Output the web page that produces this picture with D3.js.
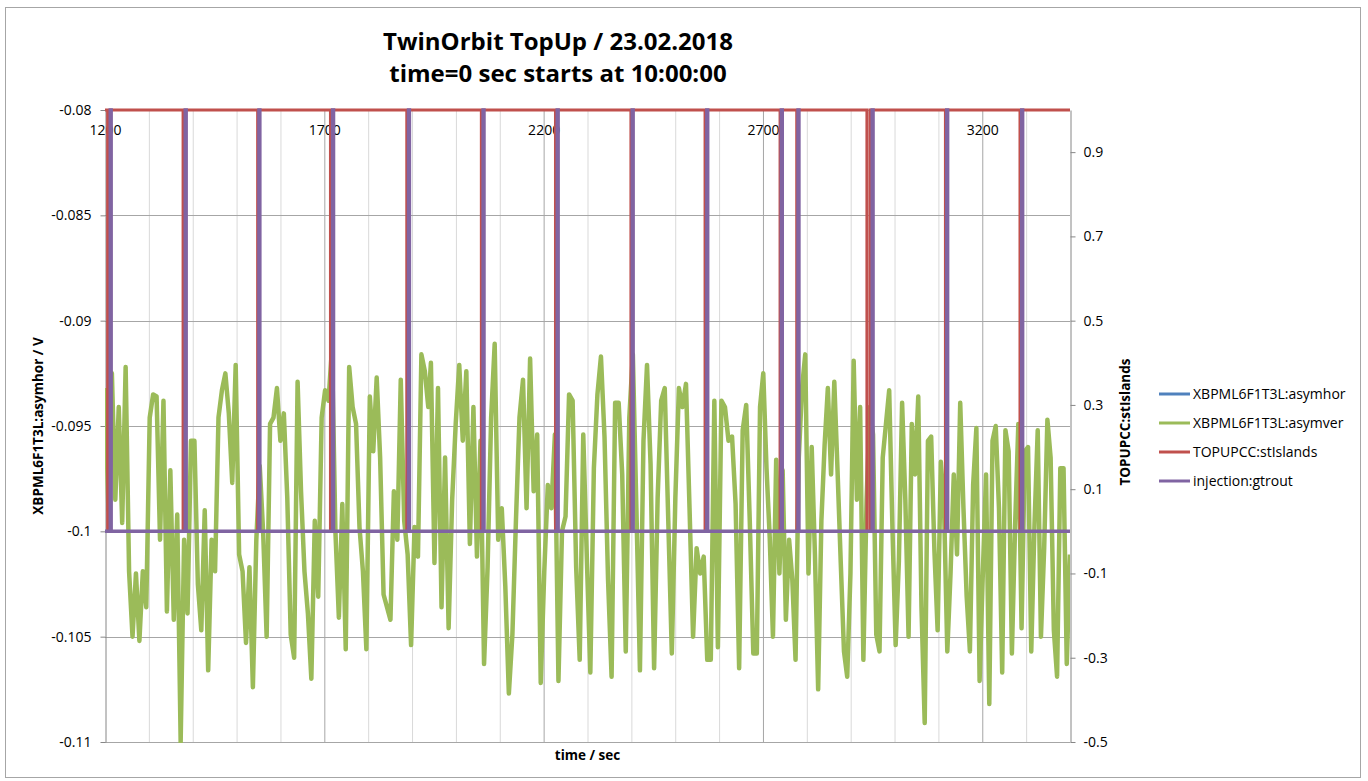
<!DOCTYPE html>
<html>
<head>
<meta charset="utf-8">
<script src="https://cdn.jsdelivr.net/npm/d3@7"></script>
<style>
  body { margin: 0; background: #fff; }
  svg text { font-family: "Open Sans", Lato, sans-serif; fill: #000; }
</style>
</head>
<body>
<svg id="chart" width="1368" height="781"></svg>
<script>
// axis ticks
var leftTicks = [-0.08, -0.085, -0.09, -0.095, -0.1, -0.105, -0.11];
var rightTicks = [0.9, 0.7, 0.5, 0.3, 0.1, -0.1, -0.3, -0.5];
var timeLabels = [1200, 1700, 2200, 2700, 3200];

// series names / colours (legend order)
var seriesNames = ["XBPML6F1T3L:asymhor", "XBPML6F1T3L:asymver", "TOPUPCC:stIslands", "injection:gtrout"];
var seriesColors = ["#4F81BD", "#9BBB59", "#C0504D", "#8064A2"];

// injection pulses (sec) - gtrout goes 0 -> 1
var injStart = [1212, 1383, 1551, 1719, 1892, 2062, 2231, 2402, 2572, 2742, 2780, 2949, 3119, 3290];
var injEnd   = [1214, 1385, 1553, 1721, 1894, 2064, 2233, 2404, 2574, 2744, 2782, 2951, 3121, 3292];

// stIslands drops 1 -> 0
var islStart = [1206, 1378, 1548, 1714, 1888, 2058, 2227, 2399, 2568, 2739, 2777, 2937, 3116, 3286];
var islEnd   = [1213, 1384, 1552, 1720, 1893, 2063, 2232, 2403, 2573, 2743, 2781, 2944.5, 3120, 3291];

var asymverSpans = [[1200, 1937], [1943, 2678], [2686, 3400]];
var asymver1 = [-0.0932, -0.0990, -0.0925, -0.0985, -0.0941, -0.0996, -0.0922, -0.1019, -0.1050, -0.1020,
  -0.1052, -0.1019, -0.1036, -0.0946, -0.0935, -0.0936, -0.1004, -0.0938, -0.1038, -0.0971,
  -0.1042, -0.0992, -0.1100, -0.1004, -0.1039, -0.0957, -0.0957, -0.1025, -0.1047, -0.0990,
  -0.1066, -0.1004, -0.1019, -0.0946, -0.0933, -0.0925, -0.0944, -0.0977, -0.0921, -0.1011,
  -0.1019, -0.1053, -0.1017, -0.1074, -0.1004, -0.0969, -0.1001, -0.1050, -0.0949, -0.0946,
  -0.0932, -0.0957, -0.0944, -0.0984, -0.1049, -0.1060, -0.0929, -0.0981, -0.1019, -0.1039,
  -0.1070, -0.0995, -0.1031, -0.0946, -0.0933, -0.0938, -0.0913, -0.1000, -0.1041, -0.0987,
  -0.1056, -0.0922, -0.0941, -0.0949, -0.0998, -0.1019, -0.1056, -0.0936, -0.0962, -0.0927,
  -0.0965, -0.1030, -0.1036, -0.1042, -0.0981, -0.1004, -0.0928, -0.0995, -0.1011, -0.1054,
  -0.0998, -0.1012, -0.0916, -0.0924, -0.0941];
var asymver2 = [-0.0920, -0.1015, -0.0932, -0.1036, -0.0965, -0.1046, -0.0985, -0.0949, -0.0921, -0.0957,
  -0.0924, -0.1006, -0.0941, -0.1012, -0.0957, -0.1063, -0.1017, -0.0946, -0.0911, -0.1004,
  -0.0989, -0.1026, -0.1077, -0.1049, -0.0995, -0.0946, -0.0928, -0.0989, -0.0918, -0.0981,
  -0.0954, -0.1072, -0.1019, -0.0978, -0.0989, -0.0954, -0.1071, -0.1000, -0.0993, -0.0935,
  -0.0938, -0.1017, -0.1061, -0.0954, -0.1012, -0.1067, -0.0970, -0.0935, -0.0917, -0.0955,
  -0.1023, -0.1069, -0.0939, -0.0939, -0.0973, -0.1057, -0.0946, -0.0916, -0.0989, -0.1066,
  -0.0957, -0.0921, -0.0968, -0.1065, -0.0984, -0.0938, -0.0932, -0.0995, -0.1058, -0.0984,
  -0.0932, -0.0941, -0.0930, -0.0989, -0.1050, -0.1008, -0.1020, -0.1012, -0.1061, -0.1061,
  -0.0938, -0.1055, -0.0938, -0.0941, -0.0957, -0.0955, -0.0987, -0.1065, -0.0952, -0.0940,
  -0.0995, -0.1058];
var asymver3 = [-0.1058, -0.0941, -0.0925, -0.0970, -0.1003, -0.1050, -0.0966, -0.1020, -0.0971, -0.1042,
  -0.1004, -0.1023, -0.1061, -0.0965, -0.0932, -0.0916, -0.1020, -0.0960, -0.1011, -0.1075,
  -0.0995, -0.0959, -0.0932, -0.0973, -0.0929, -0.0971, -0.1015, -0.1057, -0.1069, -0.1020,
  -0.0919, -0.0985, -0.0941, -0.1061, -0.0985, -0.0941, -0.0954, -0.1049, -0.1057, -0.0965,
  -0.0949, -0.0933, -0.0998, -0.1054, -0.1014, -0.0939, -0.0985, -0.1050, -0.0949, -0.0973,
  -0.0936, -0.1036, -0.1091, -0.0957, -0.0955, -0.1009, -0.1047, -0.0967, -0.0989, -0.1057,
  -0.1020, -0.0973, -0.1011, -0.0939, -0.0989, -0.1031, -0.1057, -0.0978, -0.0951, -0.1071,
  -0.1020, -0.0973, -0.1082, -0.0957, -0.0950, -0.0989, -0.1067, -0.0952, -0.0962, -0.1058,
  -0.0997, -0.0949, -0.1046, -0.0962, -0.0960, -0.1057, -0.0997, -0.0952, -0.1050, -0.1008,
  -0.0947, -0.0965, -0.1047, -0.1069, -0.0970, -0.0970, -0.1063, -0.1011];

var svg = d3.select("#chart");

// chart area border
svg.append("rect")
    .attr("x", 5.5).attr("y", 7.5)
    .attr("width", 1355).attr("height", 770)
    .attr("fill", "#fff")
    .attr("stroke", "#a6a6a6");

var plotL = 105, plotR = 1070, plotT = 110, plotB = 742;

var x = d3.scaleLinear().domain([1200, 3400]).range([plotL, plotR]);
var yL = d3.scaleLinear().domain([-0.11, -0.08]).range([plotB, plotT]);
var yR = d3.scaleLinear().domain([-0.5, 1]).range([plotB, plotT]);

// title
var title = svg.append("text")
    .attr("text-anchor", "middle")
    .style("font-size", "24px")
    .style("font-weight", "bold");
title.append("tspan").attr("x", 558).attr("y", 50).text("TwinOrbit TopUp / 23.02.2018");
title.append("tspan").attr("x", 558).attr("y", 82).text("time=0 sec starts at 10:00:00");

// grid
var grid = svg.append("g");
var minorT = d3.range(1300, 3400, 100).filter(function(t) { return t % 500 != 200; });
grid.selectAll(".vminor").data(minorT).enter().append("line")
    .attr("x1", function(d) { return x(d) + 0.5; }).attr("x2", function(d) { return x(d) + 0.5; })
    .attr("y1", plotT).attr("y2", plotB)
    .attr("stroke", "#d9d9d9");
grid.selectAll(".vmajor").data(timeLabels.slice(1)).enter().append("line")
    .attr("x1", function(d) { return x(d) + 0.5; }).attr("x2", function(d) { return x(d) + 0.5; })
    .attr("y1", plotT).attr("y2", plotB)
    .attr("stroke", "#a6a6a6");
grid.selectAll(".hgrid").data(leftTicks).enter().append("line")
    .attr("x1", plotL).attr("x2", plotR)
    .attr("y1", function(d) { return Math.round(yL(d)) + 0.5; })
    .attr("y2", function(d) { return Math.round(yL(d)) + 0.5; })
    .attr("stroke", "#a6a6a6");

// axes
var leftAxis = svg.append("g")
    .attr("transform", "translate(" + (plotL + 0.5) + ",0)")
    .call(d3.axisLeft(yL).tickValues(leftTicks).tickSize(5).tickSizeOuter(0).tickPadding(9)
        .tickFormat(function(d) { return String(+d.toFixed(3)); }));
var rightAxis = svg.append("g")
    .attr("transform", "translate(" + (plotR + 0.5) + ",0)")
    .call(d3.axisRight(yR).tickValues(rightTicks).tickSize(5).tickSizeOuter(0).tickPadding(8)
        .tickFormat(function(d) { return String(d); }));
var timeAxis = svg.append("g")
    .attr("transform", "translate(0," + plotT + ")")
    .call(d3.axisBottom(x).tickValues(timeLabels).tickSize(0).tickPadding(15)
        .tickFormat(d3.format("d")));
timeAxis.select(".domain").remove();

svg.selectAll(".domain, .tick line").attr("stroke", "#868686");
svg.selectAll(".tick text").style("font-size", "14px").style("font-family", "'Open Sans', sans-serif").attr("fill", "#000");

// series
svg.append("clipPath").attr("id", "plotclip")
  .append("rect").attr("x", plotL).attr("y", plotT - 3).attr("width", plotR - plotL).attr("height", plotB - plotT + 4);

var series = svg.append("g").attr("clip-path", "url(#plotclip)");

var asymverPts = [];
[asymver1, asymver2, asymver3].forEach(function(arr, k) {
    var s = asymverSpans[k];
    var step = (s[1] - s[0]) / (arr.length - 1);
    arr.forEach(function(v, i) { asymverPts.push([s[0] + i * step, v]); });
});

function pulses(base, other, starts, ends) {
    var pts = [[1200, base]];
    for (var i = 0; i < starts.length; i++) {
        pts.push([starts[i], base], [starts[i], other], [ends[i], other], [ends[i], base]);
    }
    pts.push([3400, base]);
    return pts;
}

var lineL = d3.line().x(function(d) { return x(d[0]); }).y(function(d) { return yL(d[1]); });
var lineR = d3.line().x(function(d) { return x(d[0]); }).y(function(d) { return yR(d[1]); });

series.append("path")
    .datum(asymverPts)
    .attr("d", lineL)
    .attr("fill", "none")
    .attr("stroke", seriesColors[1])
    .attr("stroke-width", 4.5)
    .attr("stroke-linejoin", "round");

series.append("path")
    .datum(pulses(1, 0, islStart, islEnd))
    .attr("d", lineR)
    .attr("fill", "none")
    .attr("stroke", seriesColors[2])
    .attr("stroke-width", 3);

series.append("path")
    .datum(pulses(0, 1, injStart, injEnd))
    .attr("d", lineR)
    .attr("fill", "none")
    .attr("stroke", seriesColors[3])
    .attr("stroke-width", 3.5);

// axis titles
svg.append("text")
    .attr("x", (plotL + plotR) / 2).attr("y", 760)
    .attr("text-anchor", "middle")
    .style("font-size", "13.5px").style("font-weight", "bold")
    .text("time / sec");
svg.append("text")
    .attr("transform", "translate(43," + (plotT + plotB) / 2 + ") rotate(-90)")
    .attr("text-anchor", "middle")
    .style("font-size", "13.5px").style("font-weight", "bold")
    .text("XBPML6F1T3L:asymhor / V");
svg.append("text")
    .attr("transform", "translate(1130,422) rotate(-90)")
    .attr("text-anchor", "middle")
    .style("font-size", "13.5px").style("font-weight", "bold")
    .text("TOPUPCC:stIslands");

// legend
var legendY = [394, 423, 452, 481];
var legend = svg.append("g");
seriesNames.forEach(function(name, i) {
    legend.append("line")
        .attr("x1", 1159).attr("x2", 1190)
        .attr("y1", legendY[i]).attr("y2", legendY[i])
        .attr("stroke", seriesColors[i]).attr("stroke-width", 3);
    legend.append("text")
        .attr("x", 1193).attr("y", legendY[i])
        .attr("dy", "0.35em")
        .style("font-size", "14px")
        .text(name);
});
</script>
</body>
</html>
